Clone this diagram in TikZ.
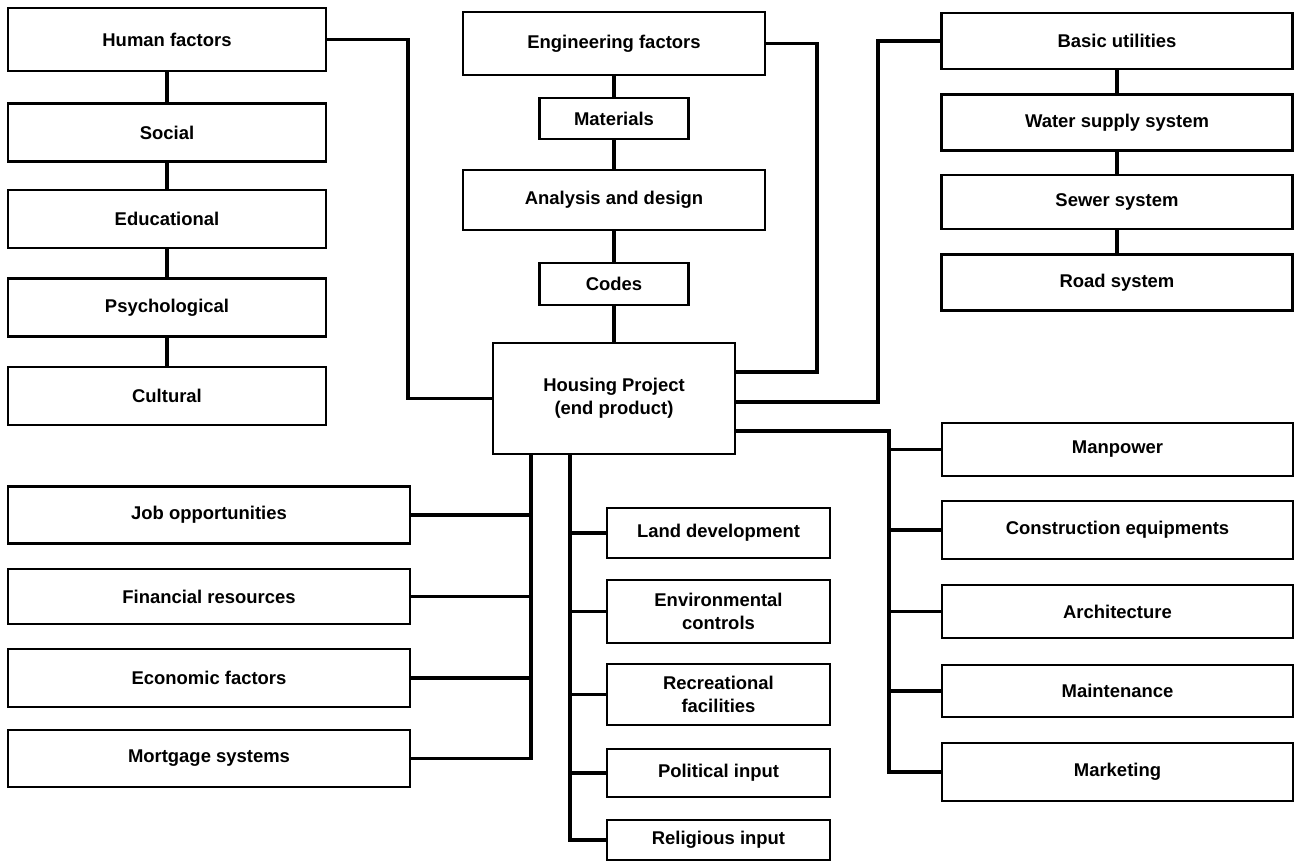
\documentclass[tikz,border=0pt]{standalone}
\usepackage{fontspec}
\setmainfont{Liberation Sans}

\newcommand{\pxscale}{0.02}

\tikzset{
  box/.style = {draw, line width = 1.6pt, align = center, inner sep = 2pt,
                font = \fontsize{10.5}{13}\selectfont\bfseries},
  leftbox/.style = {box, minimum width = 6.36cm, minimum height = 1.16cm},
  rightbox/.style = {box, minimum width = 7.02cm, minimum height = 1.12cm},
  wideleft/.style = {box, minimum width = 8.04cm, minimum height = 1.14cm},
  midbox/.style = {box, minimum width = 4.46cm, minimum height = 1.1cm},
  link/.style = {line width = 1.8pt},
}

\begin{document}
\begin{tikzpicture}[x = \pxscale cm, y = -\pxscale cm]
\useasboundingbox (0,0) rectangle (1296,866);

% human side
\node [leftbox, minimum height = 1.26cm] (hum) at (167,39.5) {Human factors};
\node [leftbox] (soc) at (167,132.5) {Social};
\node [leftbox] (edu) at (167,219) {Educational};
\node [leftbox] (psy) at (167,307.5) {Psychological};
\node [leftbox] (cul) at (167,396) {Cultural};

% engineering chain
\node [box, minimum width = 6.04cm, minimum height = 1.26cm] (eng) at (614,43.5) {Engineering factors};
\node [box, minimum width = 2.98cm, minimum height = 0.82cm] (mat) at (614,118.5) {Materials};
\node [box, minimum width = 6.04cm, minimum height = 1.2cm] (ana) at (614,200) {Analysis and design};
\node [box, minimum width = 2.98cm, minimum height = 0.84cm] (cod) at (614,284) {Codes};
\node [box, minimum width = 4.84cm, minimum height = 2.22cm] (hp) at (614,398.5) {Housing Project\\(end product)};

% utilities
\node [rightbox] (bas) at (1117,41) {Basic utilities};
\node [rightbox] (wat) at (1117,122.5) {Water supply system};
\node [rightbox, minimum height = 1.08cm] (sew) at (1117,202) {Sewer system};
\node [rightbox] (roa) at (1117,282.5) {Road system};

% construction side
\node [rightbox, minimum height = 1.06cm] (man) at (1117.5,449.5) {Manpower};
\node [rightbox, minimum height = 1.16cm] (con) at (1117.5,530) {Construction equipments};
\node [rightbox, minimum height = 1.06cm] (arc) at (1117.5,611.5) {Architecture};
\node [rightbox, minimum height = 1.04cm] (mai) at (1117.5,691) {Maintenance};
\node [rightbox, minimum height = 1.16cm] (mar) at (1117.5,772) {Marketing};

% money side
\node [wideleft] (job) at (209,515) {Job opportunities};
\node [wideleft, minimum height = 1.1cm] (fin) at (209,596.5) {Financial resources};
\node [wideleft, minimum height = 1.16cm] (eco) at (209,678) {Economic factors};
\node [wideleft] (mor) at (209,758.5) {Mortgage systems};

% site inputs
\node [midbox, minimum height = 1cm] (lan) at (718.5,533) {Land development};
\node [midbox, minimum height = 1.26cm] (env) at (718.5,611.5) {Environmental\\controls};
\node [midbox, minimum height = 1.22cm] (rec) at (718.5,694.5) {Recreational\\facilities};
\node [midbox, minimum height = 0.96cm] (pol) at (718.5,773) {Political input};
\node [midbox, minimum height = 0.8cm] (rel) at (718.5,840) {Religious input};

% bends and buses
\coordinate (hc) at (408,398.5);
\coordinate (ec) at (817,372);
\coordinate (bc) at (878,402);
\coordinate (rb) at (889,431);
\coordinate (lb) at (531,454);
\coordinate (mb) at (570,454);

\draw [link] (hum) edge (soc);
\draw [link] (soc) edge (edu);
\draw [link] (edu) edge (psy);
\draw [link] (psy) edge (cul);

\draw [link] (eng) edge (mat);
\draw [link] (mat) edge (ana);
\draw [link] (ana) edge (cod);
\draw [link] (cod) edge (hp);

\draw [link] (bas) edge (wat);
\draw [link] (wat) edge (sew);
\draw [link] (sew) edge (roa);

\draw [link] (hum.east) -| (hc) -- (hp.west);
\draw [link] (eng.east) -| (ec) -- (ec -| hp.east);
\draw [link] (bas.west) -| (bc) -- (bc -| hp.east);

\draw [link] (rb -| hp.east) -- (rb) |- (mar.west);
\draw [link] (rb |- man.west) -- (man.west);
\draw [link] (rb |- con.west) -- (con.west);
\draw [link] (rb |- arc.west) -- (arc.west);
\draw [link] (rb |- mai.west) -- (mai.west);

\draw [link] (lb |- hp.south) |- (mor.east);
\draw [link] (job.east) -- (job.east -| lb);
\draw [link] (fin.east) -- (fin.east -| lb);
\draw [link] (eco.east) -- (eco.east -| lb);

\draw [link] (mb |- hp.south) |- (rel.west);
\draw [link] (mb |- lan.west) -- (lan.west);
\draw [link] (mb |- env.west) -- (env.west);
\draw [link] (mb |- rec.west) -- (rec.west);
\draw [link] (mb |- pol.west) -- (pol.west);
\end{tikzpicture}
\end{document}
